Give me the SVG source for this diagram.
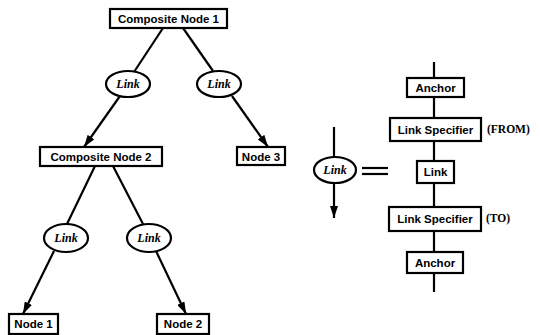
<svg xmlns="http://www.w3.org/2000/svg" width="540" height="335" viewBox="0 0 540 335">
<defs>
<style>
.box{fill:#fff;stroke:#000;stroke-width:2.2}
.lbl{font-family:"Liberation Sans",Arial,sans-serif;font-weight:bold;font-size:11.5px;text-anchor:middle;fill:#000}
.lnk{font-family:"Liberation Serif","Times New Roman",serif;font-weight:bold;font-style:italic;font-size:12px;text-anchor:middle;fill:#000}
.tag{font-family:"Liberation Serif","Times New Roman",serif;font-weight:bold;font-size:11.5px;fill:#000}
.ell{fill:#fff;stroke:#000;stroke-width:2.2}
.con{stroke:#000;stroke-width:2.2;fill:none}
</style>
<marker id="arr" viewBox="0 0 12 8" refX="12" refY="4" markerWidth="12" markerHeight="8" markerUnits="userSpaceOnUse" orient="auto">
<path d="M0,0 L12,4 L0,8 z" fill="#000"/>
</marker>
</defs>
<rect width="540" height="335" fill="#fff"/>
<g id="connectors">
<line class="con" x1="163" y1="28" x2="134" y2="72"/>
<line class="con" x1="120" y1="96" x2="84" y2="147" marker-end="url(#arr)"/>
<line class="con" x1="183" y1="28" x2="213" y2="71"/>
<line class="con" x1="232" y1="96" x2="268" y2="147" marker-end="url(#arr)"/>
<line class="con" x1="95" y1="166" x2="67" y2="224"/>
<line class="con" x1="113" y1="166" x2="143" y2="224"/>
<line class="con" x1="54" y1="251" x2="23" y2="314" marker-end="url(#arr)"/>
<line class="con" x1="156" y1="251" x2="186" y2="314" marker-end="url(#arr)"/>
<line class="con" x1="334" y1="127" x2="334" y2="158"/>
<line class="con" x1="334" y1="183" x2="334" y2="218" marker-end="url(#arr)"/>
<line class="con" x1="362" y1="168" x2="388" y2="168"/>
<line class="con" x1="362" y1="174" x2="388" y2="174"/>
<line class="con" x1="434" y1="62" x2="434" y2="292"/>
</g>
<g id="cn1"><rect class="box" x="110" y="9" width="117" height="19"/><text class="lbl" x="168.5" y="23">Composite Node 1</text></g>
<g id="link1"><ellipse class="ell" cx="128" cy="84" rx="22" ry="13"/><text class="lnk" x="128" y="88">Link</text></g>
<g id="link2"><ellipse class="ell" cx="219" cy="84" rx="22" ry="13"/><text class="lnk" x="219" y="88">Link</text></g>
<g id="cn2"><rect class="box" x="40" y="147" width="122" height="19"/><text class="lbl" x="101" y="161">Composite Node 2</text></g>
<g id="node3"><rect class="box" x="237" y="147" width="48" height="18"/><text class="lbl" x="261" y="160.5">Node 3</text></g>
<g id="link3"><ellipse class="ell" cx="66" cy="238" rx="22" ry="14"/><text class="lnk" x="66" y="242">Link</text></g>
<g id="link4"><ellipse class="ell" cx="149" cy="238" rx="22" ry="14"/><text class="lnk" x="149" y="242">Link</text></g>
<g id="node1"><rect class="box" x="9" y="314" width="49" height="20"/><text class="lbl" x="33.5" y="328">Node 1</text></g>
<g id="node2"><rect class="box" x="157" y="314" width="52" height="20"/><text class="lbl" x="183" y="328">Node 2</text></g>
<g id="linkx"><ellipse class="ell" cx="335" cy="170" rx="21" ry="13"/><text class="lnk" x="335" y="174">Link</text></g>
<g id="anchor1"><rect class="box" x="407" y="78" width="57" height="19"/><text class="lbl" x="435.5" y="91.5">Anchor</text></g>
<g id="spec1"><rect class="box" x="390" y="118" width="91" height="23"/><text class="lbl" x="435.5" y="133.5">Link Specifier</text><text class="tag" x="487" y="133">(FROM)</text></g>
<g id="linkbox"><rect class="box" x="417" y="161" width="37" height="22"/><text class="lbl" x="435.5" y="176">Link</text></g>
<g id="spec2"><rect class="box" x="389" y="207" width="92" height="24"/><text class="lbl" x="435" y="223">Link Specifier</text><text class="tag" x="486" y="222">(TO)</text></g>
<g id="anchor2"><rect class="box" x="407" y="252" width="56" height="21"/><text class="lbl" x="435" y="266.5">Anchor</text></g>
</svg>
